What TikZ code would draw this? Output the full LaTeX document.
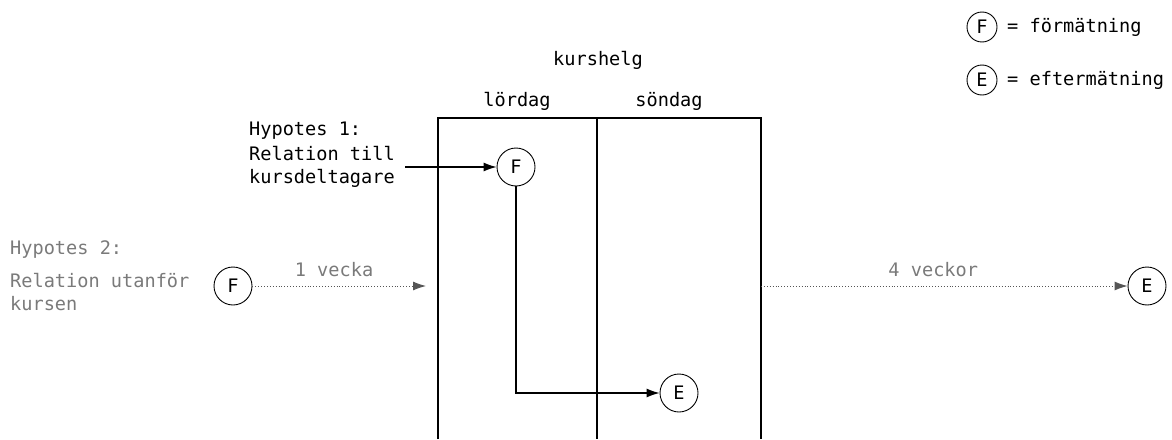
\documentclass[tikz,border=0pt]{standalone}
\usepackage{fontspec}
\setmonofont{DejaVu Sans Mono}
\usetikzlibrary{arrows.meta}
\definecolor{soft}{HTML}{7A7A7A}
\definecolor{arrowgrey}{HTML}{555555}
\begin{document}
\begin{tikzpicture}[x=1pt,y=-1pt,
  every node/.style={font=\ttfamily\fontsize{18.6}{22.5}\selectfont, inner sep=0pt},
  mark circle/.style={circle, draw, line width=0.9pt, minimum size=38pt},
  key circle/.style={circle, draw, line width=0.9pt, minimum size=30pt},
  label text/.style={anchor=west, align=left},
  solid link/.style={line width=1.1pt, -{Latex[length=13pt,width=9pt]}},
  dotted link/.style={line width=0.9pt, dotted, draw=soft, arrowgrey, -{Latex[length=13pt,width=9pt]}},
  frame line/.style={line width=1.1pt}]
\useasboundingbox (0,0) rectangle (1172,439);

% course weekend frame
\coordinate (tl) at (438,118);
\coordinate (tm) at (597,118);
\coordinate (tr) at (761,118);
\coordinate (bl) at (438,439);
\coordinate (bm) at (597,439);
\coordinate (br) at (761,439);
\draw[frame line] (bl) -- (tl) -- (tr) -- (br);
\draw[frame line] (tm) -- (bm);

\node (helg) at (598,60) {kurshelg};
\node (lor) at (517,101) {lördag};
\node (son) at (669,101) {söndag};

% hypothesis 1
\node[label text] (h1) at (249,131) {Hypotes 1:};
\node[label text] (r1) at (249,167) {Relation till\\kursdeltagare};
\node[mark circle] (f1) at (516,167) {F};
\node[mark circle] (e1) at (679,393) {E};
\coordinate (r1end) at (405,167);
\draw[solid link] (r1end) -- (f1.west);
\draw[solid link] (f1.south) |- (e1.west);

% hypothesis 2
\node[label text, text=soft] (h2) at (10,250) {Hypotes 2:};
\node[label text, text=soft] (r2) at (10,292) {Relation utanför\\kursen};
\node[mark circle] (f2) at (233,286) {F};
\node[mark circle] (e2) at (1147,286) {E};
\coordinate (weekin) at (426,286);
\coordinate (weekout) at (761,286);
\draw[dotted link] (f2.east) -- node[pos=0.47, above=9pt, text=soft] {1 vecka} (weekin);
\draw[dotted link] (weekout) -- node[pos=0.47, above=9pt, text=soft] {4 veckor} (e2.west);

% legend
\node[key circle] (lf) at (982,27) {F};
\node[key circle] (le) at (982,80) {E};
\node[label text] (lft) at (1007,27) {= förmätning};
\node[label text] (let) at (1007,80) {= eftermätning};
\end{tikzpicture}
\end{document}
